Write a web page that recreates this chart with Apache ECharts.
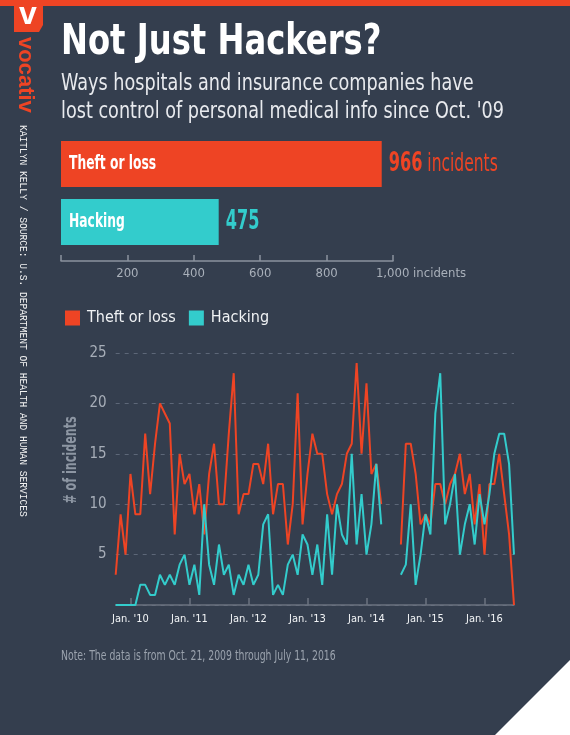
<!DOCTYPE html>
<html lang="en" style="height:100%">
  <head>
    <meta http-equiv="Content-Type" content="text/html; charset=utf-8">
    <title>Not Just Hackers?</title>
    <script type="text/javascript" src="https://cdn.jsdelivr.net/npm/echarts@6/dist/echarts.min.js"></script>
    <style>
      html, body { margin:0; padding:0; background:#343e4e; }
      #chart { width:570px; height:735px; }
    </style>
  </head>
  <body>
    <div id="chart"></div>
    <script type="text/javascript">
      // totals since Oct. '09
      var barCategories = ['Theft or loss', 'Hacking'];
      var barValues = [966, 475];

      // monthly incidents, Oct. '09 .. Jul. '16 (null = no data)
      var firstYear = 2009, firstMonth = 9;
      var theftLoss = [3, 9, 5,
        13, 9, 9, 17, 11, 16, 20, 19, 18, 7, 15, 12,
        13, 9, 12, 7, 13, 16, 10, 10, 17, 23, 9, 11,
        11, 14, 14, 12, 16, 9, 12, 12, 6, 10, 21, 8,
        13, 17, 15, 15, 11, 9, 11, 12, 15, 16, 24, 15,
        22, 13, 14, 10, null, null, null, 6, 16, 16, 13, 8,
        9, 8, 12, 12, 10, 12, 13, 15, 11, 13, 8, 12,
        5, 12, 12, 15, 11, 7, 0];
      var hacking = [0, 0, 0,
        0, 0, 2, 2, 1, 1, 3, 2, 3, 2, 4, 5,
        2, 4, 1, 10, 4, 2, 6, 3, 4, 1, 3, 2,
        4, 2, 3, 8, 9, 1, 2, 1, 4, 5, 3, 7,
        6, 3, 6, 2, 9, 3, 10, 7, 6, 15, 6, 11,
        5, 8, 14, 8, null, null, null, 3, 4, 10, 2, 5,
        9, 7, 19, 23, 8, 10, 13, 5, 8, 10, 6, 11,
        8, 11, 15, 17, 17, 14, 5];

      var MONTHS = ['Jan.', 'Feb.', 'Mar.', 'Apr.', 'May', 'Jun.', 'Jul.', 'Aug.', 'Sep.', 'Oct.', 'Nov.', 'Dec.'];
      var months = [];
      for (var i = 0; i < theftLoss.length; i++) {
        var m = (firstMonth + i) % 12;
        var y = firstYear + Math.floor((firstMonth + i) / 12);
        months.push(MONTHS[m] + " '" + String(y).slice(2));
      }

      var RED = '#ee4424';
      var TEAL = '#33cccc';
      var BG = '#343e4e';
      var COND = "'DejaVu Sans Condensed', 'DejaVu Sans', sans-serif";

      function isJan(idx, val) { return val.indexOf('Jan') === 0; }

      // fixed page furniture: header, logo, credits, note
      var furniture = [
        { type: 'rect', shape: { x: 0, y: 0, width: 570, height: 6 }, style: { fill: RED } },
        { type: 'polygon', shape: { points: [[14, 0], [43, 0], [43, 25], [39, 32], [14, 32]] }, style: { fill: RED } },
        { type: 'text', x: 28, y: 15, style: { text: 'v', fill: '#fff', font: 'bold 32px "Liberation Sans", sans-serif', align: 'center', verticalAlign: 'middle' } },
        { type: 'text', x: 25, y: 37, rotation: -Math.PI / 2, style: { text: 'vocativ', fill: RED, font: 'bold 22px "Liberation Sans", sans-serif', align: 'left', verticalAlign: 'middle' } },
        { type: 'text', x: 23, y: 125, rotation: -Math.PI / 2, scaleX: 0.96, style: { text: 'KAITLYN KELLY / SOURCE: U.S. DEPARTMENT OF HEALTH AND HUMAN SERVICES', fill: '#f2f2f2', font: '10px "Liberation Mono", monospace', align: 'left', verticalAlign: 'middle' } },
        { type: 'text', x: 61, y: 43, scaleX: 0.853, style: { text: 'Not Just Hackers?', fill: '#ffffff', font: 'bold 42px ' + COND, align: 'left', verticalAlign: 'middle' } },
        { type: 'text', x: 61, y: 84, scaleX: 0.853, style: { text: 'Ways hospitals and insurance companies have', fill: '#e8eaee', font: '23px ' + COND, align: 'left', verticalAlign: 'middle' } },
        { type: 'text', x: 61, y: 112, scaleX: 0.853, style: { text: "lost control of personal medical info since Oct. '09", fill: '#e8eaee', font: '23px ' + COND, align: 'left', verticalAlign: 'middle' } },
        { type: 'text', x: 72, y: 460, rotation: Math.PI / 2, scaleX: 0.73, style: { text: '# of incidents', fill: '#8d96a3', font: 'bold 17px ' + COND, align: 'center', verticalAlign: 'middle' } },
        { type: 'text', x: 61, y: 656, scaleX: 0.74, style: { text: 'Note: The data is from Oct. 21, 2009 through July 11, 2016', fill: '#9aa2ad', font: '14px ' + COND, align: 'left', verticalAlign: 'middle' } },
        { type: 'polygon', shape: { points: [[570, 660], [570, 735], [495, 735]] }, style: { fill: '#ffffff' } }
      ];

      var chart = echarts.init(document.getElementById('chart'));
      var option = {
        backgroundColor: BG,
        animation: false,
        graphic: furniture,
        legend: {
          data: ['Theft or loss', 'Hacking'],
          left: 65,
          top: 310,
          padding: 0,
          icon: 'rect',
          itemWidth: 15,
          itemHeight: 15,
          itemGap: 13,
          textStyle: { color: '#f0f2f4', fontSize: 16, fontFamily: COND, padding: [0, 0, 0, 2] }
        },
        grid: [
          { left: 61, right: 177, top: 135, height: 116 },
          { left: 115.7, right: 56, top: 353, bottom: 130 }
        ],
        xAxis: [
          {
            gridIndex: 0, type: 'value', min: 0, max: 1000, interval: 200, offset: 10,
            axisLine: { show: true, lineStyle: { color: '#8a929e', width: 1.5 } },
            axisTick: { show: true, inside: true, length: 6, lineStyle: { color: '#8a929e', width: 1.5 } },
            splitLine: { show: false },
            axisLabel: {
              color: '#a9b0ba', fontSize: 13, fontFamily: COND, margin: 6,
              formatter: function (v) {
                if (v === 0) return '';
                if (v === 1000) return '{sp|}1,000 incidents';
                return v;
              },
              rich: { sp: { width: 56 } }
            }
          },
          {
            gridIndex: 1, type: 'category', data: months, boundaryGap: false,
            axisLine: { lineStyle: { color: '#6b7380', width: 1.5 } },
            axisTick: { show: true, inside: true, length: 7, interval: isJan, lineStyle: { color: '#6b7380', width: 1.5 } },
            axisLabel: { interval: isJan, color: '#f2f4f6', fontSize: 11, fontFamily: COND, margin: 9 },
            splitLine: { show: false }
          }
        ],
        yAxis: [
          { gridIndex: 0, type: 'category', data: barCategories, inverse: true, show: false },
          {
            gridIndex: 1, type: 'value', min: 0, max: 25, interval: 5,
            axisLine: { show: false },
            axisTick: { show: false },
            axisLabel: {
              color: '#a7aeb8', fontSize: 15, fontFamily: COND, margin: 9,
              formatter: function (v) { return v === 0 ? '' : v; }
            },
            splitLine: { lineStyle: { color: '#5d6778', type: [4, 5], width: 1 } }
          }
        ],
        series: [
          {
            name: 'Totals',
            type: 'bar',
            xAxisIndex: 0, yAxisIndex: 0,
            barWidth: 46,
            data: barValues.map(function (v, i) { return { value: v, itemStyle: { color: i === 0 ? RED : TEAL } }; })
          },
          {
            name: 'Theft or loss',
            type: 'line',
            xAxisIndex: 1, yAxisIndex: 1,
            data: theftLoss,
            showSymbol: false,
            color: RED,
            lineStyle: { width: 2 }
          },
          {
            name: 'Hacking',
            type: 'line',
            xAxisIndex: 1, yAxisIndex: 1,
            data: hacking,
            showSymbol: false,
            color: TEAL,
            lineStyle: { width: 2 }
          }
        ]
      };
      chart.setOption(option);

      // bar labels, placed from the bar scale and squeezed to look condensed
      var barLabels = [];
      barValues.forEach(function (v, i) {
        var start = chart.convertToPixel({ gridIndex: 0 }, [0, i]);
        var end = chart.convertToPixel({ gridIndex: 0 }, [v, i]);
        barLabels.push({
          type: 'text', x: start[0] + 8, y: start[1], z: 100, scaleX: 0.72, silent: true,
          style: { text: barCategories[i], fill: '#ffffff', font: 'bold 19px ' + COND, align: 'left', verticalAlign: 'middle' }
        });
        barLabels.push({
          type: 'text', x: end[0] + 7, y: end[1], z: 100, scaleX: 0.69, silent: true,
          style: {
            text: i === 0 ? '{a|' + v + '}{b| incidents}' : '{c|' + v + '}',
            align: 'left', verticalAlign: 'middle',
            rich: {
              a: { fill: RED, font: 'bold 26px ' + COND },
              b: { fill: RED, font: '25px ' + COND },
              c: { fill: TEAL, font: 'bold 26px ' + COND }
            }
          }
        });
      });
      chart.setOption({ graphic: furniture.concat(barLabels) });
    </script>
  </body>
</html>
